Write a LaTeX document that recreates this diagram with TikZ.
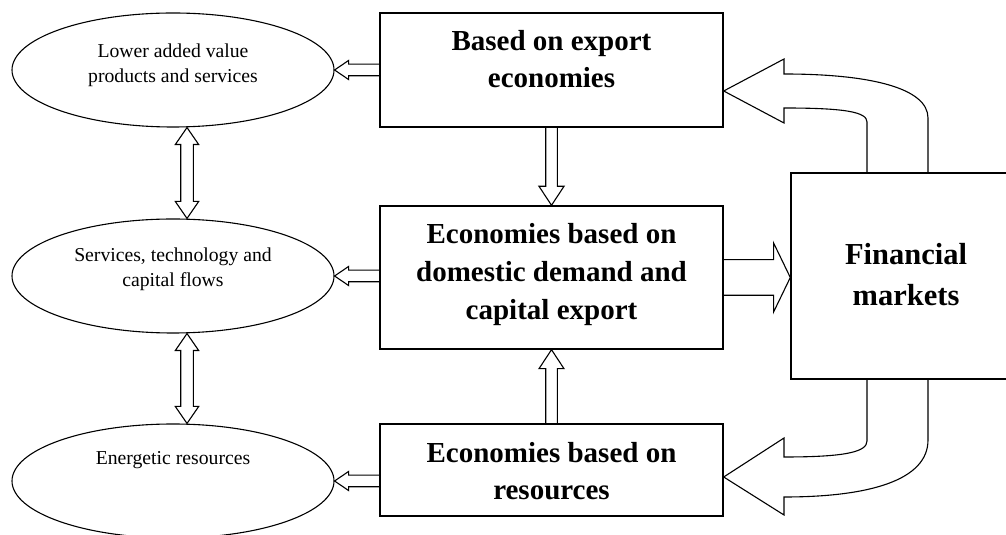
\documentclass[tikz,border=0pt]{standalone}
\usepackage{fontspec}
\setmainfont{Liberation Serif}
\usetikzlibrary{shapes.geometric,calc}

% hollow block arrow from #1 to #2: shaft half width, head half width, head length
\newcommand{\blockarr}[5]{%
  \coordinate (hb) at ($(#2)!#5!(#1)$);
  \draw[arr] ($(#1)!#3!90:(#2)$) -- ($(hb)!#3!90:(#2)$) -- ($(hb)!#4!90:(#2)$) -- (#2)
    -- ($(hb)!#4!-90:(#2)$) -- ($(hb)!#3!-90:(#2)$) -- ($(#1)!#3!-90:(#2)$);
}
% same, with a head at both ends
\newcommand{\dblarr}[5]{%
  \coordinate (ha) at ($(#1)!#5!(#2)$);
  \coordinate (hb) at ($(#2)!#5!(#1)$);
  \draw[arr] (#1) -- ($(ha)!#4!90:(#2)$) -- ($(ha)!#3!90:(#2)$) -- ($(hb)!#3!90:(#2)$)
    -- ($(hb)!#4!90:(#2)$) -- (#2) -- ($(hb)!#4!-90:(#2)$) -- ($(hb)!#3!-90:(#2)$)
    -- ($(ha)!#3!-90:(#2)$) -- ($(ha)!#4!-90:(#2)$) -- cycle;
}
% stacked lines, lifted inside their node
\newcommand{\lines}[2]{\raisebox{#1}[\height][\depth]{\begin{tabular}{@{}c@{}}#2\end{tabular}}}

\begin{document}
\begin{tikzpicture}[x=1pt,y=1pt]
\tikzstyle{every node}=[inner sep=0pt]
\tikzstyle{box}=[draw, line width=1.4pt, minimum width=343pt, font=\fontsize{29}{37.7}\selectfont\bfseries]
\tikzstyle{oval}=[draw, ellipse, line width=1.1pt, minimum width=322pt, minimum height=114pt, font=\fontsize{19.7}{24.5}\selectfont]
\tikzstyle{arr}=[line width=1.1pt, line join=miter]
\useasboundingbox (0,0) rectangle (1006,535);
% boxes
\draw (551.5,465) node (b1) [box, minimum height=114pt] {\lines{8.5pt}{Based on export\\economies}};
\draw (551.5,257.5) node (b2) [box, minimum height=143pt, font=\fontsize{29}{38.3}\selectfont\bfseries] {\lines{3.6pt}{Economies based on\\domestic demand and\\capital export}};
\draw (551.5,65) node (b3) [box, minimum height=92pt] {\lines{-3.4pt}{Economies based on\\resources}};
\draw (906,259) node (fm) [box, minimum width=230pt, minimum height=206pt, font=\fontsize{30.5}{41}\selectfont\bfseries] {\lines{-1.3pt}{Financial\\markets}};
% ovals
\draw (173,465) node (e1) [oval] {\lines{4.9pt}{Lower added value\\products and services}};
\draw (173,259) node (e2) [oval] {\lines{6.9pt}{Services, technology and\\capital flows}};
\draw (173,54) node (e3) [oval] {\lines{20.9pt}{Energetic resources}};
% straight arrows
\coordinate (t1) at (b1.west |- e1.east);
\coordinate (t2) at (b2.west |- e2.east);
\coordinate (t3) at (b3.west |- e3.east);
\blockarr{t1}{e1.east}{5.8pt}{9.5pt}{14pt}
\blockarr{t2}{e2.east}{5.8pt}{9.5pt}{14pt}
\blockarr{t3}{e3.east}{5.8pt}{9.5pt}{14pt}
\blockarr{b1.south}{b2.north}{5.8pt}{12.5pt}{19pt}
\blockarr{b3.north}{b2.south}{5.8pt}{12.5pt}{19pt}
\coordinate (t4) at (fm.west |- b2.east);
\blockarr{b2.east}{t4}{17.8pt}{34.5pt}{16.7pt}
\dblarr{[xshift=14pt]e1.south}{[xshift=14pt]e2.north}{6.3pt}{11.7pt}{17pt}
\dblarr{[xshift=14pt]e2.south}{[xshift=14pt]e3.north}{6.3pt}{11.7pt}{17pt}
% curved arrows
\draw[arr] ([xshift=-39pt]fm.north) -- (867,413) .. controls (867,423) and (845,427) .. (784,427)
  -- (784,412) -- ([yshift=-21pt]b1.east) -- (784,476) -- (784,461)
  .. controls (870,461) and (928,447) .. (928,417) -- ([xshift=22pt]fm.north);
\draw[arr] ([xshift=-39pt]fm.south) -- (867,94) .. controls (867,83) and (845,78) .. (784,78)
  -- (784,97) -- ([yshift=-7pt]b3.east) -- (784,20) -- (784,38)
  .. controls (870,38) and (928,55) .. (928,95) -- ([xshift=22pt]fm.south);
\end{tikzpicture}
\end{document}
